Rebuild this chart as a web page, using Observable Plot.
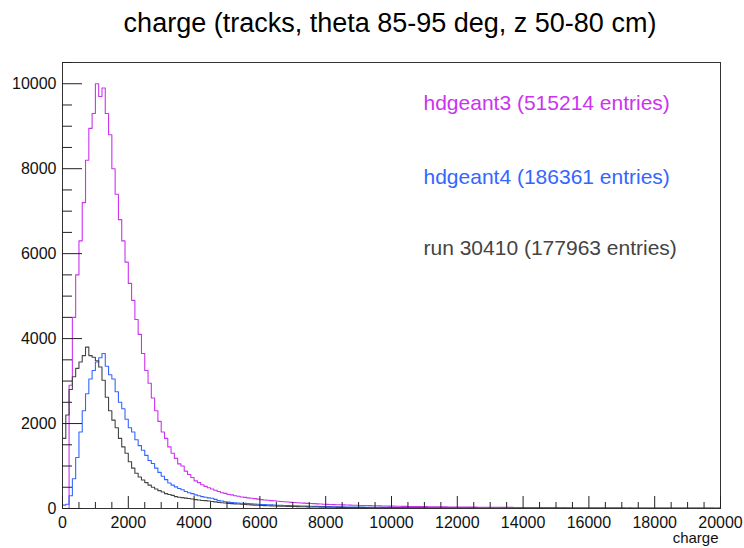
<!DOCTYPE html>
<html>
<head>
<meta charset="utf-8">
<script src="https://cdn.jsdelivr.net/npm/d3@7"></script>
<script src="https://cdn.jsdelivr.net/npm/@observablehq/plot@0.6"></script>
<style>
  html, body { margin: 0; padding: 0; background: #fff; }
  body { width: 744px; height: 548px; overflow: hidden; font-family: "Liberation Sans", Arial, sans-serif; }
  #title { height: 44px; line-height: 46px; font-size: 27px; text-align: center; padding-left: 36px; color: #000; white-space: nowrap; }
</style>
</head>
<body>
<div id="title">charge (tracks, theta 85-95 deg, z 50-80 cm)</div>
<div id="chart"></div>
<script>
// ---------------- data ----------------
const title = "charge (tracks, theta 85-95 deg, z 50-80 cm)";
const binWidth = 100;           // charge units per bin, bins cover 0..20000
const xMajorTicks = [0, 2000, 4000, 6000, 8000, 10000, 12000, 14000, 16000, 18000, 20000];
const yMajorTicks = [0, 2000, 4000, 6000, 8000, 10000];
const seriesNames = ["hdgeant3 (515214 entries)", "hdgeant4 (186361 entries)", "run 30410 (177963 entries)"];
const seriesColors = ["#cc33f0", "#3366ff", "#444444"];

// hdgeant3 counts per bin
const hdgeant3 = [
  0,0,2900,4500,5500,6300,7200,8200,8950,9300,
  10000,9700,9900,9300,8800,8000,7400,6800,6300,5800,
  5300,4900,4450,4100,3650,3250,2950,2600,2300,2050,
  1800,1650,1450,1300,1180,1050,1000,880,800,730,
  650,610,560,520,490,460,430,400,370,355,
  330,320,300,290,270,262,250,240,232,220,
  210,200,195,185,182,170,165,160,152,145,
  140,136,130,126,120,118,115,110,106,100,
  98,95,92,90,88,85,83,80,78,75,
  72,71,70,68,65,64,62,60,58,57,
  55,54,52,51,50,48,47,46,45,44,
  43,42,42,40,41,39,38,37,36,37,
  35,34,35,33,32,33,31,30,31,29,
  29,28,29,27,27,26,27,25,25,24,
  25,23,24,22,23,22,21,22,20,21,
  20,19,20,19,18,19,18,17,18,17,
  16,17,16,15,16,15,15,14,15,14,
  14,13,14,13,13,12,13,12,12,11,
  12,11,11,10,11,10,10,10,9,10,
  9,9,9,8,9,8,8,8,7,8
];

// hdgeant4 counts per bin
const hdgeant4 = [
  80,100,300,700,1200,1800,2300,2700,3050,3250,
  3450,3550,3650,3350,3150,3050,2750,2500,2350,2100,
  1900,1800,1620,1480,1370,1250,1130,1060,950,850,
  760,680,600,550,510,470,440,400,370,350,
  320,300,280,265,250,240,215,190,175,160,
  150,140,135,130,125,120,115,110,105,100,
  95,92,88,85,82,78,75,72,70,68,
  65,62,60,58,55,53,51,50,48,46,
  45,43,42,40,39,38,37,36,35,34,
  33,32,31,30,30,29,28,27,27,26,
  25,25,24,24,23,22,22,21,21,20,
  20,19,19,18,18,18,17,17,16,16,
  16,15,15,15,14,14,14,13,13,13,
  12,12,12,12,11,11,11,11,10,10,
  10,10,10,9,9,9,9,9,8,8,
  8,8,8,8,7,7,7,7,7,7,
  7,6,6,6,6,6,6,6,5,5,
  5,5,5,5,5,5,5,5,4,4,
  4,4,4,4,4,4,4,4,4,4,
  3,3,3,3,3,3,3,3,3,3
];

// run 30410 (data) counts per bin
const run30410 = [
  1650,2200,2800,3100,3300,3450,3600,3800,3600,3560,
  3480,3330,3020,2620,2300,2080,1900,1650,1450,1300,
  1100,950,830,740,670,610,550,500,460,420,
  390,350,330,310,280,265,255,245,235,225,
  210,200,190,185,175,165,155,145,135,128,
  120,115,110,105,100,95,90,85,80,75,
  70,68,65,62,60,57,55,52,50,48,
  46,44,42,40,39,37,36,34,33,32,
  30,29,28,27,26,25,24,23,22,22,
  21,20,20,19,18,18,17,17,16,16,
  15,15,14,14,13,13,13,12,12,12,
  11,11,11,10,10,10,10,9,9,9,
  9,8,8,8,8,8,7,7,7,7,
  7,7,6,6,6,6,6,6,5,5,
  5,5,5,5,5,5,4,4,4,4,
  4,4,4,4,4,4,3,3,3,3,
  3,3,3,3,3,3,3,3,3,3,
  3,2,2,2,2,2,2,2,2,2,
  2,2,2,2,2,2,2,2,2,2,
  2,2,2,2,2,2,2,2,2,2
];

// ---------------- build ----------------
const W = 744, H = 504;
const mT = 18, mB = 40, mL = 62, mR = 24;
const fw = W - mL - mR, fh = H - mT - mB;

const xMinorTicks = d3.range(0, 20001, 500).filter(v => !xMajorTicks.includes(v));
const yMinorTicks = d3.range(0, 10501, 500).filter(v => !yMajorTicks.includes(v));

function steps(counts) {
  const pts = counts.map((c, i) => ({x: i * binWidth, y: c}));
  pts.push({x: counts.length * binWidth, y: counts[counts.length - 1]});
  return pts;
}
const allCounts = [hdgeant3, hdgeant4, run30410];

const marks = [];
allCounts.forEach((c, k) => {
  marks.push(Plot.line(steps(c), {x: "x", y: "y", curve: "step-after", stroke: seriesColors[k], strokeWidth: 1.1}));
});
marks.push(
  Plot.frame({stroke: "#333", strokeWidth: 1}),
  Plot.ruleX(xMajorTicks, {insetTop: fh - 12, stroke: "#222"}),
  Plot.ruleX(xMinorTicks, {insetTop: fh - 6, stroke: "#222"}),
  Plot.ruleY(yMajorTicks, {insetRight: fw - 20, stroke: "#222"}),
  Plot.ruleY(yMinorTicks, {insetRight: fw - 10, stroke: "#222"}),
  Plot.axisX(xMajorTicks, {tickSize: 0, tickPadding: 8, fontSize: 16, label: null, tickFormat: d => String(d), fill: "#111"}),
  Plot.axisY(yMajorTicks, {tickSize: 0, tickPadding: 6, fontSize: 16, label: null, tickFormat: d => String(d), fill: "#111"}),
  Plot.text(["charge"], {frameAnchor: "bottom-right", textAnchor: "end", dx: -2, dy: 34, fontSize: 15, fill: "#111"})
);
const legendDy = [41, 115, 186];
seriesNames.forEach((n, k) => {
  marks.push(Plot.text([n], {frameAnchor: "top-left", textAnchor: "start", lineAnchor: "middle", dx: 361, dy: legendDy[k], fontSize: 21, fill: seriesColors[k]}));
});

const chart = Plot.plot({
  width: W, height: H,
  marginTop: mT, marginBottom: mB, marginLeft: mL, marginRight: mR,
  style: {fontFamily: "'Liberation Sans', Arial, sans-serif", fontSize: "16px", background: "#fff"},
  x: {domain: [0, 20000], axis: null},
  y: {domain: [0, 10500], axis: null},
  marks
});
document.getElementById("chart").appendChild(chart);
</script>
</body>
</html>
